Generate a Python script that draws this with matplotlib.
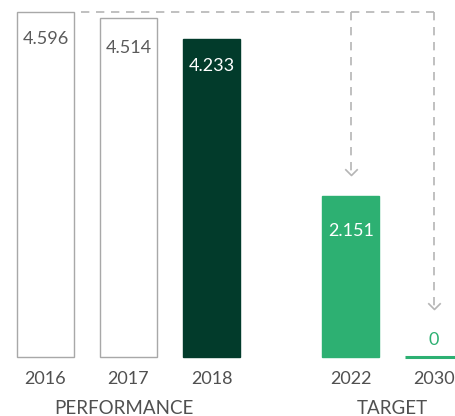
import matplotlib.pyplot as plt
from matplotlib.path import Path

# Data
years = ['2016', '2017', '2018', '2022', '2030']
values = [4596, 4514, 4233, 2151, 0]
labels = ['4.596', '4.514', '4.233', '2.151', '0']
positions = [0, 1, 2, 3.68, 4.68]
groups = ['PERFORMANCE', 'TARGET']
group_centers = [0.94, 4.18]

face_colors = ['white', 'white', '#023b2b', '#2db072', '#2db072']
edge_colors = ['#a8a8a8', '#a8a8a8', '#023b2b', '#2db072', '#2db072']
text_colors = ['#5a5a5a', '#5a5a5a', 'white', 'white', '#2db072']
label_offsets = [-27, -30, -27, -35, 17]  # pixels from bar top

plt.rcParams['font.family'] = ['Lato', 'DejaVu Sans']
FS = 13

fig = plt.figure(figsize=(4.55, 4.16), dpi=100)
ax = fig.add_axes([0, 0, 1, 1])
ax.set_xlim(-0.548, 4.934)
ax.set_ylim(-786, 4756)
ax.axis('off')

width = 0.687
for i in range(len(years)):
    lw = 2.2 if values[i] == 0 else 1.0
    ax.bar(positions[i], values[i], width=width, color=face_colors[i],
           edgecolor=edge_colors[i], linewidth=lw, zorder=2)
    ax.annotate(labels[i], (positions[i], values[i]), xytext=(0, label_offsets[i]),
                textcoords='offset pixels', ha='center', va='center',
                fontsize=FS, color=text_colors[i])
    ax.annotate(years[i], (positions[i], 0), xytext=(0, -22),
                textcoords='offset pixels', ha='center', va='center',
                fontsize=FS, color='#505050')

for g, c in zip(groups, group_centers):
    ax.annotate(g, (c, 0), xytext=(0, -51), textcoords='offset pixels',
                ha='center', va='center', fontsize=13.5, color='#505050')

# dashed connector from the 2016 level down to the targets
dash_col = '#b5b5b5'
top = values[0]
ax.plot([positions[0] + width / 2 + 0.09, positions[4]], [top, top],
        color=dash_col, lw=1.2, ls=(0, (5, 4)), zorder=1)
chevron = Path([(-1, 1), (0, 0), (1, 1)], [Path.MOVETO, Path.LINETO, Path.LINETO])
for i, off in [(3, 230), (4, 600)]:
    ax.plot([positions[i], positions[i]], [top, values[i] + off + 40],
            color=dash_col, lw=1.2, ls=(0, (5, 4)), zorder=1)
    ax.plot(positions[i], values[i] + off + 40, marker=chevron, markersize=9,
            markerfacecolor='none', markeredgecolor=dash_col, mew=1.2)

fig.savefig('out.png', dpi=100)
